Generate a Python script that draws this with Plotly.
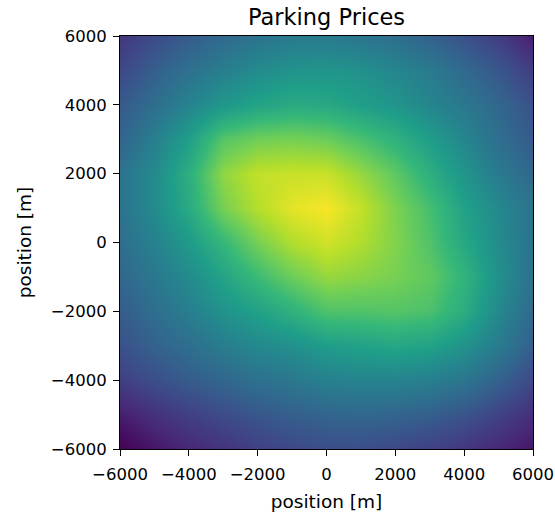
import plotly.graph_objects as go

# Grid positions (m)
x_positions = [-6000, -5000, -4000, -3000, -2000, -1000, 0, 1000, 2000, 3000, 4000, 5000, 6000]
y_positions_top_down = [6000, 5000, 4000, 3000, 2000, 1000, 0, -1000, -2000, -3000, -4000, -5000, -6000]

# Relative parking price (rows from top y=6000 to bottom y=-6000)
price_rows = [
    [0.16, 0.23, 0.29, 0.34, 0.38, 0.41, 0.41, 0.39, 0.36, 0.31, 0.25, 0.18, 0.08],
    [0.22, 0.30, 0.37, 0.43, 0.48, 0.51, 0.52, 0.50, 0.46, 0.41, 0.34, 0.27, 0.18],
    [0.28, 0.36, 0.45, 0.53, 0.58, 0.61, 0.60, 0.56, 0.52, 0.46, 0.40, 0.33, 0.25],
    [0.32, 0.43, 0.56, 0.73, 0.78, 0.79, 0.77, 0.71, 0.64, 0.55, 0.46, 0.36, 0.28],
    [0.38, 0.48, 0.63, 0.83, 0.91, 0.92, 0.92, 0.84, 0.75, 0.63, 0.52, 0.41, 0.33],
    [0.38, 0.48, 0.61, 0.79, 0.89, 0.96, 0.99, 0.91, 0.80, 0.70, 0.57, 0.47, 0.38],
    [0.36, 0.44, 0.54, 0.66, 0.79, 0.88, 0.93, 0.88, 0.81, 0.72, 0.60, 0.48, 0.38],
    [0.33, 0.40, 0.48, 0.58, 0.68, 0.77, 0.84, 0.82, 0.79, 0.75, 0.65, 0.50, 0.37],
    [0.29, 0.36, 0.43, 0.51, 0.57, 0.64, 0.72, 0.72, 0.73, 0.71, 0.62, 0.47, 0.34],
    [0.25, 0.31, 0.36, 0.42, 0.47, 0.50, 0.55, 0.57, 0.59, 0.57, 0.51, 0.41, 0.30],
    [0.19, 0.24, 0.29, 0.33, 0.37, 0.40, 0.44, 0.45, 0.45, 0.43, 0.39, 0.31, 0.22],
    [0.08, 0.14, 0.19, 0.23, 0.27, 0.30, 0.32, 0.33, 0.32, 0.30, 0.26, 0.20, 0.13],
    [0.00, 0.06, 0.11, 0.15, 0.19, 0.22, 0.24, 0.24, 0.22, 0.19, 0.16, 0.11, 0.06],
]

tick_values = [-6000, -4000, -2000, 0, 2000, 4000, 6000]
tick_labels = ["\u22126000", "\u22124000", "\u22122000", "0", "2000", "4000", "6000"]

title_text = "Parking Prices"
x_label = "position [m]"
y_label = "position [m]"

font_family = "DejaVu Sans"

fig_w, fig_h = 555, 515

fig = go.Figure(
    go.Heatmap(
        x=x_positions,
        y=y_positions_top_down[::-1],
        z=price_rows[::-1],
        colorscale="Viridis",
        zmin=0,
        zmax=1,
        zsmooth="best",
        showscale=False,
        hoverinfo="skip",
    )
)

axis_common = dict(
    range=[-6000, 6000],
    tickmode="array",
    tickvals=tick_values,
    ticktext=tick_labels,
    ticks="outside",
    ticklen=6,
    tickwidth=1,
    tickcolor="black",
    showline=True,
    linecolor="black",
    linewidth=1,
    mirror=True,
    showgrid=False,
    zeroline=False,
    automargin=False,
    tickfont=dict(family=font_family, size=16.5, color="black"),
)

fig.update_layout(
    width=fig_w,
    height=fig_h,
    margin=dict(l=120, r=22, t=36, b=66),
    paper_bgcolor="white",
    plot_bgcolor="white",
    title=dict(
        text=title_text,
        x=0.5,
        xref="paper",
        xanchor="center",
        y=1 - 17.5 / fig_h,
        yref="container",
        yanchor="middle",
        font=dict(family=font_family, size=22.5, color="black"),
        automargin=False,
    ),
    xaxis=dict(
        **axis_common,
        ticklabelstandoff=4,
        title=dict(text=x_label, font=dict(family=font_family, size=18.5, color="black"), standoff=12),
    ),
    yaxis=dict(
        **axis_common,
        ticklabelstandoff=3,
        title=dict(text=y_label, font=dict(family=font_family, size=18.5, color="black"), standoff=14),
    ),
)

# Remove the default 8px page margin so the figure fills the window from its corner.
fig.write_html(
    "out.html",
    config={"displayModeBar": False, "staticPlot": True},
    post_script="document.body.style.margin='0';document.body.style.overflow='hidden';",
)
